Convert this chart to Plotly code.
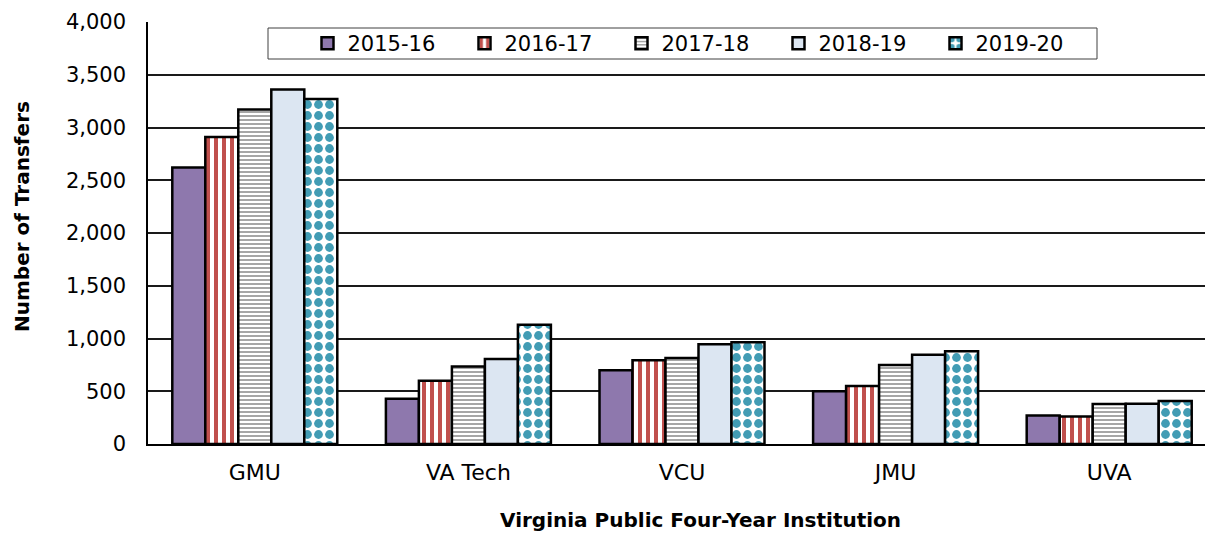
import plotly.graph_objects as go

# ---- data ----
institutions = ["GMU", "VA Tech", "VCU", "JMU", "UVA"]
years = ["2015-16", "2016-17", "2017-18", "2018-19", "2019-20"]
v_2015_16 = [2620, 430, 700, 500, 270]
v_2016_17 = [2910, 600, 795, 550, 260]
v_2017_18 = [3170, 735, 815, 748, 380]
v_2018_19 = [3360, 805, 945, 846, 382]
v_2019_20 = [3270, 1130, 965, 880, 407]
y_tick_vals = [0, 500, 1000, 1500, 2000, 2500, 3000, 3500, 4000]
y_tick_text = ["0", "500", "1,000", "1,500", "2,000", "2,500", "3,000", "3,500", "4,000"]
x_title = "Virginia Public Four-Year Institution"
y_title = "Number of Transfers"

series = [v_2015_16, v_2016_17, v_2017_18, v_2018_19, v_2019_20]

# ---- styles ----
FONT = "DejaVu Sans, Liberation Sans, Arial, sans-serif"
styles = [
    dict(color="#8E78AD", pattern=dict(shape="")),
    dict(color="#C0504D", pattern=dict(shape="|", fgcolor="#C0504D", bgcolor="white",
                                       size=8, solidity=0.5, fillmode="replace")),
    dict(color="#A6A6A6", pattern=dict(shape="-", fgcolor="#A6A6A6", bgcolor="white",
                                       size=4, solidity=0.5, fillmode="replace")),
    dict(color="#DCE6F2", pattern=dict(shape="")),
    dict(color="#429CB4", pattern=dict(shape=".", fgcolor="#429CB4", bgcolor="white",
                                       size=11, solidity=0.5, fillmode="replace")),
]

fig = go.Figure()
for name, vals, st in zip(years, series, styles):
    fig.add_trace(go.Bar(
        x=institutions, y=vals, name=name,
        marker=dict(color=st["color"], pattern=st["pattern"],
                    line=dict(color="black", width=2.5)),
    ))

W, H = 1205, 534
L, R, T, B = 148, 0, 22, 90
pw, ph = W - L - R, H - T - B
cat_w = 213.6  # pixel width of one category slot
x_hi = -0.5 + pw / cat_w


def px(x):
    return (x - L) / pw


def py(y):
    return (H - B - y) / ph


fig.update_layout(
    width=W, height=H,
    margin=dict(l=L, r=R, t=T, b=B, autoexpand=False),
    paper_bgcolor="white", plot_bgcolor="white",
    font=dict(family=FONT, size=21, color="black"),
    barmode="group", bargap=0.2275, bargroupgap=0,
    showlegend=True,
    legend=dict(orientation="h", x=px(307.5), xanchor="left", y=py(43.5), yanchor="middle",
                bgcolor="rgba(0,0,0,0)", borderwidth=0, font=dict(size=21),
                itemwidth=30, entrywidth=112, entrywidthmode="pixels", traceorder="normal"),
    xaxis=dict(range=[-0.5, x_hi], showline=True, linecolor="black", linewidth=1.5,
               ticks="", showgrid=False,
               tickfont=dict(size=22), ticklabelstandoff=8, automargin=False),
    yaxis=dict(range=[0, 4000], tickvals=y_tick_vals, ticktext=y_tick_text,
               showgrid=True, gridcolor="#1a1a1a", gridwidth=1.5,
               showline=True, linecolor="black", linewidth=1.5, zeroline=False,
               ticks="", tickfont=dict(size=21), ticklabelstandoff=16, automargin=False),
    shapes=[dict(type="rect", xref="paper", yref="paper",
                 x0=px(268), x1=px(1097), y0=py(59), y1=py(28),
                 line=dict(color="#404040", width=1), fillcolor="white", layer="below")],
    annotations=[
        dict(text="<b>%s</b>" % x_title, xref="paper", yref="paper", x=px(700), y=py(520),
             xanchor="center", yanchor="middle", showarrow=False, font=dict(size=20)),
        dict(text="<b>%s</b>" % y_title, xref="paper", yref="paper", x=px(22), y=py(217),
             xanchor="center", yanchor="middle", textangle=-90, showarrow=False,
             font=dict(size=20)),
    ],
)

fig.write_html("out.html", config={"displayModeBar": False},
               post_script="document.body.style.margin='0px';")
